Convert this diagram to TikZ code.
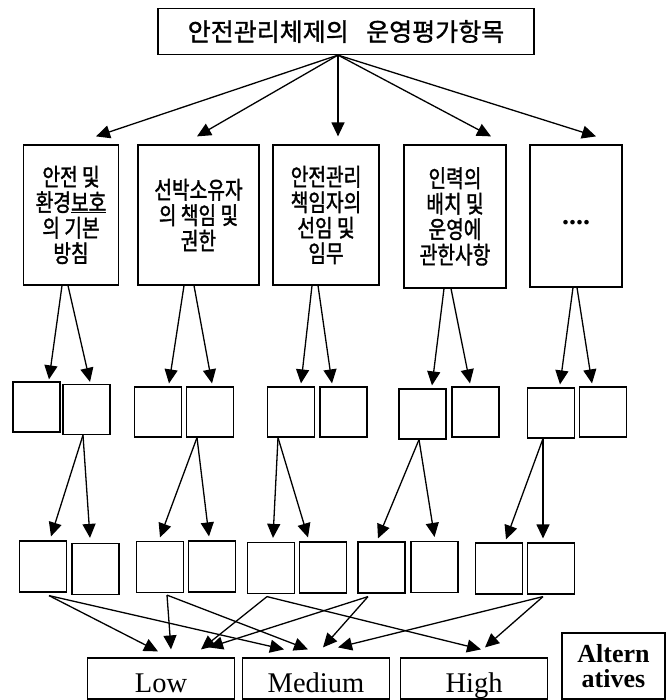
\documentclass[tikz,border=0pt]{standalone}
\usepackage{fontspec}
\setmainfont{Liberation Serif}
\newfontfamily\kr{Noto Sans CJK KR}[FakeBold=1.2]
\newfontfamily\krn{Noto Sans CJK KR}[FakeStretch=0.8,FakeBold=1.4]
\usetikzlibrary{arrows.meta,calc}
\tikzset{
  box/.style={draw, line width=1.2pt, inner sep=0pt, minimum width=47pt, minimum height=50pt},
  bigbox/.style={draw, line width=1.2pt, inner sep=0pt, align=center, font=\krn\fontsize{24}{25.5}\selectfont},
  outbox/.style={draw, line width=1.2pt, inner sep=0pt, minimum width=147pt, minimum height=41pt,
    font=\fontsize{28.5}{28}\selectfont, text height=28pt, text depth=0pt},
  arr/.style={line width=1.3pt, -{Triangle[length=14pt,width=13pt]}}
}
\begin{document}
\begin{tikzpicture}[x=1pt,y=-1pt]
\useasboundingbox (0,0) rectangle (670,700);
% title
\node[draw, line width=1.2pt, minimum width=376pt, minimum height=46pt, inner sep=0pt,
  font=\kr\fontsize{25}{25}\selectfont] (T) at (346,31.5) {안전관리체제의\hspace{0.7em}운영평가항목};
% level 1
\node[bigbox, minimum width=95pt, minimum height=140pt] (A) at (71,215) {안전 및\\환경\underline{보호}\\의 기본\\방침};
\node[bigbox, minimum width=121pt, minimum height=140pt] (B) at (198.5,215) {선박소유자\\의 책임 및\\권한};
\node[bigbox, minimum width=106pt, minimum height=140pt] (C) at (326,215) {안전관리\\책임자의\\선임 및\\임무};
\node[bigbox, minimum width=102pt, minimum height=143pt] (D) at (455,216.5) {인력의\\배치 및\\운영에\\관한사항};
\node[bigbox, minimum width=92pt, minimum height=142pt, font=\bfseries\fontsize{28}{28}\selectfont] (E) at (576,216) {\smash{\raisebox{-9pt}{....}}};
\draw[arr] ($(T.south)+(-8,0)$) -- ($(A.north)+(25,-8)$);
\draw[arr] ($(T.south)+(-8,0)$) -- ($(B.north)+(-1.5,-8)$);
\draw[arr] ($(T.south)+(-8,0)$) -- ($(C.north)+(12,-8)$);
\draw[arr] ($(T.south)+(-8,0)$) -- ($(D.north)+(36,-8)$);
\draw[arr] ($(T.south)+(-8,0)$) -- ($(E.north)+(20,-8)$);
% level 2
\node[box] (a1) at (36.5,407) {};
\node[box] (a2) at (86.5,409.5) {};
\node[box] (b1) at (158,412) {};
\node[box] (b2) at (210,412) {};
\node[box] (c1) at (291,412) {};
\node[box] (c2) at (343.5,412) {};
\node[box] (d1) at (422.5,414) {};
\node[box] (d2) at (475.5,412) {};
\node[box] (e1) at (551,413) {};
\node[box] (e2) at (603,412) {};
\draw[arr] ($(A.south)+(-9,0)$) -- ($(a1.north)+(12.5,-2)$);
\draw[arr] ($(A.south)+(-3,0)$) -- ($(a2.north)+(3.5,-2)$);
\draw[arr] ($(B.south)+(-14.5,0)$) -- ($(b1.north)+(11,-3)$);
\draw[arr] ($(B.south)+(-4.5,0)$) -- ($(b2.north)+(2,-3)$);
\draw[arr] ($(C.south)+(-14,0)$) -- ($(c1.north)+(10,-3)$);
\draw[arr] ($(C.south)+(-8,0)$) -- ($(c2.north)+(-11.5,-3)$);
\draw[arr] ($(D.south)+(-11,0)$) -- ($(d1.north)+(9.5,-3)$);
\draw[arr] ($(D.south)+(-4,0)$) -- ($(d2.north)+(-5.5,-3)$);
\draw[arr] ($(E.south)+(-3,0)$) -- ($(e1.north)+(9,-3)$);
\draw[arr] ($(E.south)+(1,0)$) -- ($(e2.north)+(-11,-3)$);
% level 3
\node[box, minimum height=51pt] (r1) at (43,566.5) {};
\node[box, minimum height=51pt] (r2) at (95.5,569) {};
\node[box, minimum height=51pt] (r3) at (160,567) {};
\node[box, minimum height=51pt] (r4) at (212,566.5) {};
\node[box, minimum height=51pt] (r5) at (271,568) {};
\node[box, minimum height=51pt] (r6) at (323,567.5) {};
\node[box, minimum height=51pt] (r7) at (381.5,567.5) {};
\node[box, minimum height=51pt] (r8) at (434.5,567) {};
\node[box, minimum height=51pt] (r9) at (499,568.5) {};
\node[box, minimum height=51pt] (r10) at (551,568.5) {};
\draw[arr] ($(a2.south)+(-3.5,0)$) -- ($(r1.north)+(8,-4)$);
\draw[arr] ($(a2.south)+(-3.5,0)$) -- ($(r2.north)+(-5.5,-5)$);
\draw[arr] ($(b2.south)+(-13,0)$) -- ($(r3.north)+(0,-3.5)$);
\draw[arr] ($(b2.south)+(-13,0)$) -- ($(r4.north)+(-3,-4)$);
\draw[arr] ($(c1.south)+(-13,0)$) -- ($(r5.north)+(2,-4)$);
\draw[arr] ($(c1.south)+(-13,0)$) -- ($(r6.north)+(-15,-4)$);
\draw[arr] ($(d1.south)+(-3.5,0)$) -- ($(r7.north)+(-3.5,-3)$);
\draw[arr] ($(d1.south)+(-3.5,0)$) -- ($(r8.north)+(0,-4)$);
\draw[arr] ($(e1.south)+(-8,0)$) -- ($(r9.north)+(7,-3)$);
\draw[arr] ($(e1.south)+(-8,0)$) -- ($(r10.north)+(-8,-4)$);
% outcomes
\node[outbox] (L) at (161,678.5) {Low};
\node[outbox] (M) at (316,678.5) {Medium};
\node[outbox] (H) at (474,678.5) {High};
\node[draw, line width=1.2pt, inner sep=0pt, minimum width=103pt, minimum height=66pt, align=center,
  font=\bfseries\fontsize{26}{25}\selectfont] (Alt) at (613.5,666) {Altern\\atives};
\draw[arr] ($(r1.south)+(6,3)$) -- ($(L.north)+(-3,-6)$);
\draw[arr] ($(r1.south)+(6,3)$) -- ($(M.north)+(-32,-8)$);
\draw[arr] ($(r3.south)+(7,2)$) -- ($(L.north)+(10,-8)$);
\draw[arr] ($(r3.south)+(7,2)$) -- ($(M.north)+(-8,-8)$);
\draw[arr] ($(r5.south)+(-4,2.5)$) -- ($(L.north)+(40,-8)$);
\draw[arr] ($(r5.south)+(-4,2.5)$) -- ($(H.north)+(7,-8)$);
\draw[arr] ($(r7.south)+(-13.5,3)$) -- ($(L.north)+(48,-10)$);
\draw[arr] ($(r7.south)+(-13.5,3)$) -- ($(M.north)+(7,-10)$);
\draw[arr] ($(r10.south)+(-8,2)$) -- ($(M.north)+(22,-10)$);
\draw[arr] ($(r10.south)+(-8,2)$) -- ($(H.north)+(11,-10)$);
\end{tikzpicture}
\end{document}
